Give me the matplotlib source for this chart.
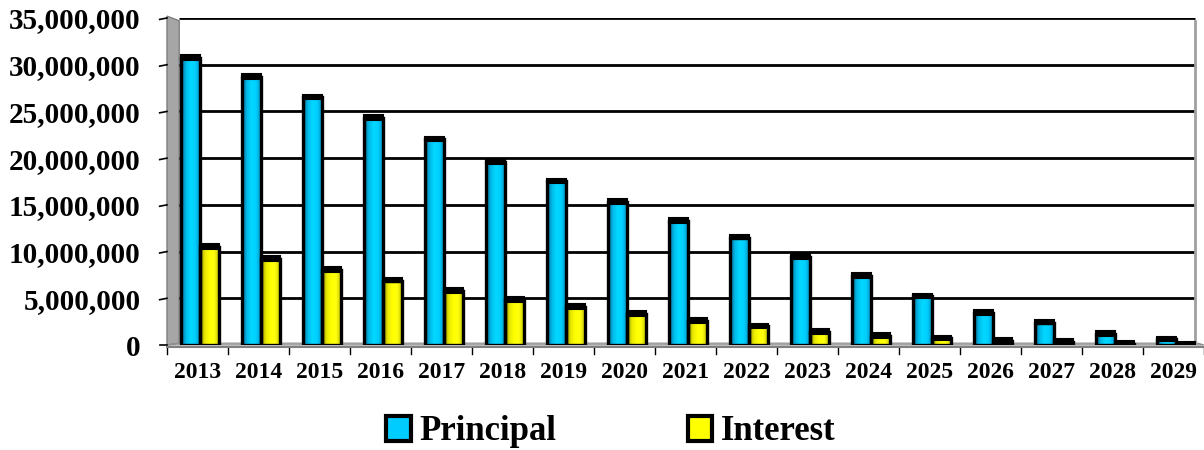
import matplotlib
import numpy as np

matplotlib.use("Agg")
import matplotlib.pyplot as plt
from matplotlib.patches import Polygon, Rectangle
from matplotlib.colors import LinearSegmentedColormap


years = [str(y) for y in range(2013, 2030)]
principal = [30.7, 28.7, 26.5, 24.3, 22.0, 19.6, 17.5, 15.3, 13.3, 11.5,
             9.4, 7.4, 5.2, 3.4, 2.4, 1.2, 0.6]
interest = [10.5, 9.2, 8.0, 6.9, 5.8, 4.8, 4.1, 3.3, 2.6, 2.0,
            1.4, 1.0, 0.7, 0.4, 0.3, 0.15, 0.05]
y_ticks = [0, 5, 10, 15, 20, 25, 30, 35]

SCALE = 1_000_000
FONT = "Liberation Serif"

cyan_map = LinearSegmentedColormap.from_list(
    "cyan_bar", ["#0a5f8a", "#00b8e8", "#00d8ff", "#00cfff", "#0098c8"])
yellow_map = LinearSegmentedColormap.from_list(
    "yellow_bar", ["#8a8a00", "#e8e800", "#ffff00", "#ffff10", "#c8c800"])


def shaded_bars(ax, xs, heights, width, cmap):
    grad = np.linspace(0, 1, 64).reshape(1, -1)
    for x, h in zip(xs, heights):
        h = h * SCALE
        rect = Rectangle((x - width / 2, 0), width, h, facecolor="none",
                         edgecolor="black", linewidth=2.4, zorder=4)
        ax.add_patch(rect)
        img = ax.imshow(grad, cmap=cmap, aspect="auto", zorder=3,
                        extent=(x - width / 2, x + width / 2, 0, h))
        img.set_clip_path(rect)
        # dark top face of the column
        ax.add_patch(Rectangle((x - width / 2, h - 0.2 * SCALE), width,
                               0.5 * SCALE, facecolor="black",
                               edgecolor="black", linewidth=1.5, zorder=5))


fig = plt.figure(figsize=(12.04, 4.5), dpi=100)
ax = fig.add_axes([167 / 1204, 1 - 345 / 450, 1037 / 1204, 327 / 450])

n = len(years)
idx = np.arange(n)
ax.set_xlim(-0.5, n - 0.5)
ax.set_ylim(0, 35 * SCALE)

# gray side wall and floor
wall = Polygon([(-0.5, 0), (-0.3, 0.2 * SCALE), (-0.3, 34.7 * SCALE),
                (-0.5, 35.2 * SCALE)], closed=True, facecolor="#a6a6a6",
               edgecolor="#7f7f7f", linewidth=1.0, zorder=1, clip_on=False)
ax.add_patch(wall)
floor = Polygon([(-0.5, 0), (-0.3, 0.2 * SCALE), (16.4, 0.2 * SCALE),
                 (16.5, 0)], closed=True, facecolor="#c8c8c8",
                edgecolor="#8c8c8c", linewidth=0.8, zorder=1, clip_on=False)
ax.add_patch(floor)

# gridlines on the back wall
for v in y_ticks[1:]:
    ax.plot([-0.3, 16.35], [v * SCALE, v * SCALE], color="black",
            linewidth=2.0, zorder=2, solid_capstyle="butt")
    ax.plot([-0.62, -0.5], [v * SCALE - 0.15 * SCALE, v * SCALE],
            color="black", linewidth=1.2, clip_on=False, zorder=2)
ax.plot([16.35, 16.35], [0.2 * SCALE, 34.7 * SCALE], color="#a0a0a0",
        linewidth=2.0, zorder=2)
ax.plot([-0.62, -0.5], [0, 0], color="black", linewidth=1.2,
        clip_on=False, zorder=2)

shaded_bars(ax, idx - 0.11, principal, 0.31, cyan_map)
shaded_bars(ax, idx + 0.2, interest, 0.31, yellow_map)

ax.set_yticks([v * SCALE for v in y_ticks])
ax.set_yticklabels([f"{v * SCALE:,}" for v in y_ticks], fontsize=21,
                   fontweight="bold", family=FONT)
ax.set_xticks(idx)
ax.set_xticklabels(years, fontsize=17, fontweight="bold", family=FONT)
ax.tick_params(axis="y", length=0, pad=19)
ax.tick_params(axis="x", length=0, pad=12)
for boundary in np.arange(-0.5, n, 1.0):
    ax.plot([boundary, boundary], [-0.25 * SCALE, -1.0 * SCALE],
            color="black", linewidth=1.0, clip_on=False)
ax.plot([-0.5, 16.5], [-0.25 * SCALE, -0.25 * SCALE], color="#808080",
        linewidth=1.5, clip_on=False)
for side in ax.spines.values():
    side.set_visible(False)

handles = [Rectangle((0, 0), 1, 1, facecolor="#00ccff", edgecolor="black",
                     linewidth=3),
           Rectangle((0, 0), 1, 1, facecolor="#ffff00", edgecolor="black",
                     linewidth=3)]
fig.legend(handles, ["Principal", "Interest"], loc="center",
           bbox_to_anchor=(611 / 1204, 1 - 432 / 450), ncol=2, frameon=False,
           prop={"family": FONT, "weight": "bold", "size": 25},
           handlelength=0.7, handleheight=0.7, handletextpad=0.25,
           columnspacing=3.8)

fig.savefig("out.png", dpi=100)
